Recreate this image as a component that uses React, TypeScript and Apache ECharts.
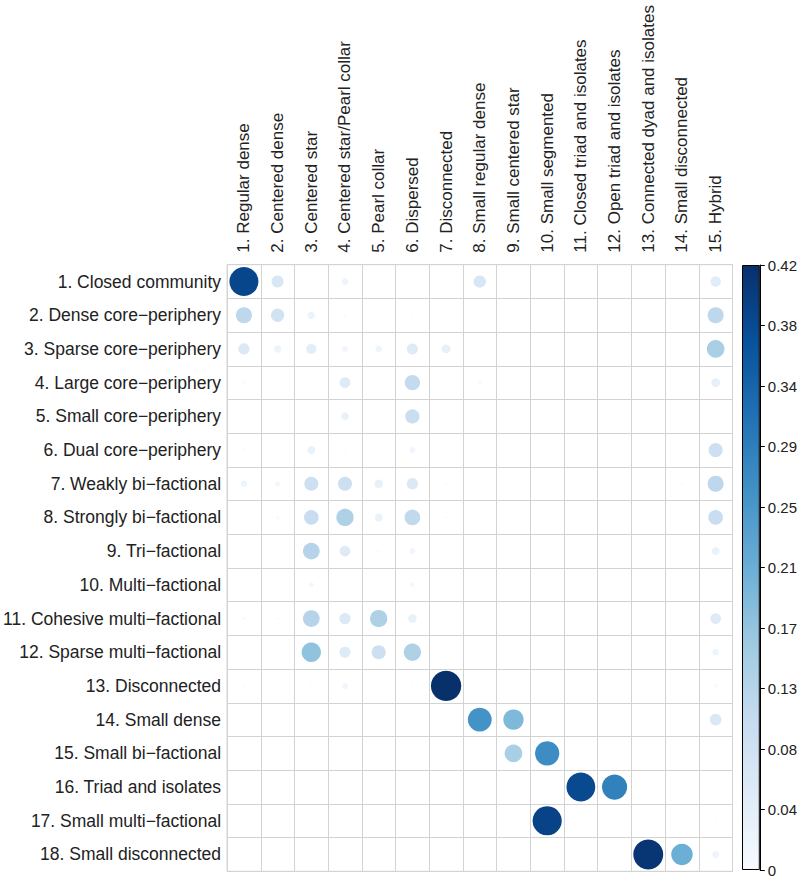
import React, { useEffect, useRef } from "react";
import * as echarts from "echarts";

const colLabels = [
  "1. Regular dense",
  "2. Centered dense",
  "3. Centered star",
  "4. Centered star/Pearl collar",
  "5. Pearl collar",
  "6. Dispersed",
  "7. Disconnected",
  "8. Small regular dense",
  "9. Small centered star",
  "10. Small segmented",
  "11. Closed triad and isolates",
  "12. Open triad and isolates",
  "13. Connected dyad and isolates",
  "14. Small disconnected",
  "15. Hybrid",
];

const rowLabels = [
  "1. Closed community",
  "2. Dense core\u2212periphery",
  "3. Sparse core\u2212periphery",
  "4. Large core\u2212periphery",
  "5. Small core\u2212periphery",
  "6. Dual core\u2212periphery",
  "7. Weakly bi\u2212factional",
  "8. Strongly bi\u2212factional",
  "9. Tri\u2212factional",
  "10. Multi\u2212factional",
  "11. Cohesive multi\u2212factional",
  "12. Sparse multi\u2212factional",
  "13. Disconnected",
  "14. Small dense",
  "15. Small bi\u2212factional",
  "16. Triad and isolates",
  "17. Small multi\u2212factional",
  "18. Small disconnected",
];

// rows x columns
const values = [
  [0.385, 0.066, 0, 0.02, 0.002, 0, 0.002, 0.069, 0, 0, 0, 0, 0, 0, 0.049],
  [0.117, 0.081, 0.024, 0.003, 0.002, 0.002, 0, 0.002, 0, 0, 0, 0, 0, 0.002, 0.117],
  [0.058, 0.025, 0.046, 0.016, 0.02, 0.055, 0.035, 0, 0.002, 0, 0, 0, 0, 0, 0.143],
  [0.004, 0, 0, 0.052, 0.002, 0.107, 0, 0.005, 0, 0, 0, 0, 0, 0, 0.035],
  [0, 0.002, 0, 0.029, 0, 0.094, 0.002, 0, 0, 0, 0, 0, 0, 0, 0],
  [0.003, 0.002, 0.029, 0.002, 0.002, 0.016, 0.002, 0, 0.002, 0, 0, 0, 0, 0, 0.09],
  [0.02, 0.012, 0.09, 0.09, 0.034, 0.058, 0.002, 0, 0, 0, 0, 0, 0, 0.002, 0.117],
  [0, 0.004, 0.098, 0.137, 0.029, 0.112, 0.003, 0, 0.002, 0, 0, 0, 0, 0.002, 0.098],
  [0, 0.002, 0.127, 0.052, 0.003, 0.016, 0, 0, 0, 0, 0, 0, 0, 0, 0.029],
  [0, 0.002, 0.012, 0, 0.002, 0.01, 0, 0, 0, 0, 0, 0, 0, 0, 0],
  [0.004, 0.003, 0.127, 0.058, 0.137, 0.034, 0, 0, 0, 0, 0, 0, 0, 0.002, 0.052],
  [0, 0, 0.171, 0.055, 0.09, 0.137, 0, 0, 0, 0, 0, 0, 0, 0, 0.02],
  [0.002, 0.002, 0.002, 0.016, 0.002, 0.002, 0.42, 0, 0, 0, 0, 0, 0, 0.002, 0.006],
  [0, 0, 0, 0, 0, 0, 0, 0.26, 0.19, 0, 0, 0, 0, 0, 0.062],
  [0, 0, 0, 0, 0, 0, 0, 0, 0.143, 0.27, 0, 0, 0, 0, 0],
  [0, 0, 0, 0, 0, 0, 0, 0, 0, 0.002, 0.38, 0.29, 0, 0, 0],
  [0, 0, 0, 0, 0, 0, 0, 0, 0, 0.39, 0, 0, 0, 0, 0.002],
  [0, 0, 0, 0, 0, 0, 0, 0, 0, 0, 0, 0, 0.41, 0.21, 0.022],
];

const colorbarTicks = ["0", "0.04", "0.08", "0.13", "0.17", "0.21", "0.25", "0.29", "0.34", "0.38", "0.42"];
const valueMax = 0.42;

const blues = ["#F7FBFF", "#DEEBF7", "#C6DBEF", "#9ECAE1", "#6BAED6", "#4292C6", "#2171B5", "#08519C", "#08306B"];

const FONT = "'Liberation Sans', Arial, Helvetica, sans-serif";
const GRID_LEFT = 227;
const GRID_TOP = 264.7;
const CELL = 33.7;

export default function App() {
  const ref = useRef<HTMLDivElement>(null);
  useEffect(() => {
    if (!ref.current) return;
    const chart = echarts.init(ref.current, undefined, { renderer: "svg" });
    const data: [number, number, number][] = [];
    values.forEach((row, r) =>
      row.forEach((v, c) => {
        if (v > 0) data.push([c, r, v]);
      })
    );
    const step = valueMax / (colorbarTicks.length - 1);
    const option: any = {
      animation: false,
      backgroundColor: "#fff",
      textStyle: { fontFamily: FONT },
      grid: [
        {
          left: GRID_LEFT,
          top: GRID_TOP,
          width: CELL * colLabels.length,
          height: CELL * rowLabels.length,
          show: true,
          borderColor: "#d3d3d3",
          borderWidth: 1,
        },
        { left: 742, top: 265, width: 20, height: 605 },
      ],
      xAxis: [
        {
          type: "category",
          gridIndex: 0,
          data: colLabels,
          position: "top",
          axisLine: { show: false },
          axisTick: { show: false },
          splitLine: { show: true, interval: 0, lineStyle: { color: "#d3d3d3", width: 1 } },
          axisLabel: { rotate: -90, interval: 0, margin: 12, fontSize: 17, color: "#222", fontFamily: FONT },
        },
        { type: "category", gridIndex: 1, data: ["bar"], show: false },
      ],
      yAxis: [
        {
          type: "category",
          gridIndex: 0,
          data: rowLabels,
          inverse: true,
          axisLine: { show: false },
          axisTick: { show: false },
          splitLine: { show: true, interval: 0, lineStyle: { color: "#d3d3d3", width: 1 } },
          axisLabel: { interval: 0, margin: 6, fontSize: 17.5, color: "#222", fontFamily: FONT },
        },
        {
          type: "value",
          gridIndex: 1,
          position: "right",
          min: 0,
          max: valueMax,
          interval: step,
          axisLine: { show: true, lineStyle: { color: "#000", width: 1 } },
          axisTick: { show: true, length: 5, lineStyle: { color: "#000" } },
          splitLine: { show: false },
          axisLabel: {
            margin: 8,
            fontSize: 15,
            color: "#222",
            fontFamily: FONT,
            formatter: (v: number) => colorbarTicks[Math.round(v / step)] ?? "",
          },
        },
      ],
      visualMap: {
        type: "continuous",
        show: false,
        min: 0,
        max: valueMax,
        dimension: 2,
        seriesIndex: 0,
        inRange: { color: blues },
      },
      series: [
        {
          type: "scatter",
          xAxisIndex: 0,
          yAxisIndex: 0,
          data,
          symbol: "circle",
          symbolSize: (val: number[]) => 0.9 * CELL * Math.sqrt(val[2] / valueMax),
          itemStyle: { opacity: 1 },
        },
        {
          type: "bar",
          xAxisIndex: 1,
          yAxisIndex: 1,
          data: [valueMax],
          barWidth: "100%",
          itemStyle: {
            color: new echarts.graphic.LinearGradient(
              0,
              1,
              0,
              0,
              blues.map((c, i) => ({ offset: i / (blues.length - 1), color: c }))
            ),
            borderColor: "#000",
            borderWidth: 1,
          },
        },
      ],
    };
    chart.setOption(option);
    return () => chart.dispose();
  }, []);
  return (
    <div
      ref={ref}
      style={{ position: "fixed", left: 0, top: 0, width: 800, height: 879, background: "#fff" }}
    />
  );
}
